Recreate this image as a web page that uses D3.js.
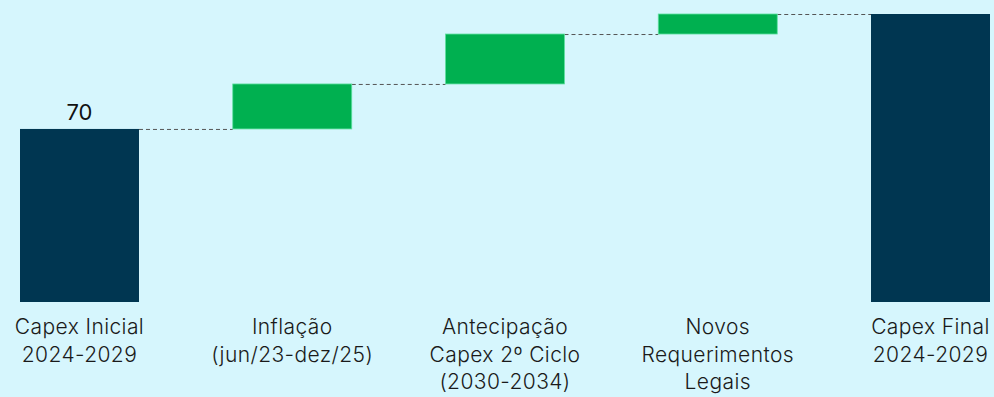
<!DOCTYPE html>
<html><head><meta charset="utf-8">
<script src="https://cdn.jsdelivr.net/npm/d3@7"></script>
<style>html,body{margin:0;padding:0;background:#d6f6fd;}svg{display:block;}</style>
</head><body>
<svg id="c" width="994" height="397"></svg>
<script>
const categories = [["Capex Inicial","2024-2029"],["Inflação","(jun/23-dez/25)"],["Antecipação","Capex 2º Ciclo","(2030-2034)"],["Novos","Requerimentos","Legais"],["Capex Final","2024-2029"]];
const kinds = ["total","delta","delta","delta","total"];
const values = [70, 18.2, 20.2, 8.1, 116.5];
const valueLabels = ["70","","","",""];

const svg = d3.select("#c");
const W = 994, H = 397;
svg.append("rect").attr("width",W).attr("height",H).attr("fill","#d6f6fd");

const x = d3.scaleBand().domain(d3.range(categories.length)).range([20,990]).paddingInner(0.4407).paddingOuter(0);
const y = d3.scaleLinear().domain([0,116.5]).range([302,14]);

let run = 0;
const bars = values.map((v,i)=>{
  let y0,y1;
  if(kinds[i]==="total"){ y0=0; y1=v; run=v; }
  else { y0=run; y1=run+v; run=y1; }
  return {i,y0,y1,kind:kinds[i]};
});

for(let i=0;i<bars.length-1;i++){
  const lvl = bars[i].y1;
  svg.append("line")
    .attr("x1", x(i)+x.bandwidth()).attr("x2", x(i+1))
    .attr("y1", y(lvl)+0.5).attr("y2", y(lvl)+0.5)
    .attr("stroke","#555").attr("stroke-width",1).attr("stroke-dasharray","4,3");
}

svg.selectAll("rect.bar").data(bars).enter().append("rect")
  .attr("class","bar")
  .attr("x",d=>x(d.i)).attr("width",x.bandwidth())
  .attr("y",d=>y(d.y1)).attr("height",d=>y(d.y0)-y(d.y1))
  .attr("fill",d=>d.kind==="total"?"#003651":"#00b050")
  .attr("stroke",d=>d.kind==="total"?"none":"#5fe0a0")
  .attr("stroke-width",0.8);

svg.selectAll("text.val").data(bars.filter(d=>valueLabels[d.i])).enter().append("text")
  .attr("x",d=>x(d.i)+x.bandwidth()/2).attr("y",d=>y(d.y1)-9)
  .attr("text-anchor","middle").attr("font-family","Inter, sans-serif").attr("font-size",22)
  .attr("fill","#111").text(d=>valueLabels[d.i]);

const g = svg.selectAll("text.cat").data(categories).enter().append("text")
  .attr("class","cat").attr("text-anchor","middle")
  .attr("font-family","Inter, sans-serif").attr("font-size",21).attr("font-weight",300)
  .attr("letter-spacing","0.4px").attr("fill","#1a1a1a");
g.each(function(lines,i){
  const t = d3.select(this);
  lines.forEach((l,k)=>{
    t.append("tspan").attr("x",x(i)+x.bandwidth()/2).attr("y",334+k*27.5).text(l);
  });
});
</script>
</body></html>
